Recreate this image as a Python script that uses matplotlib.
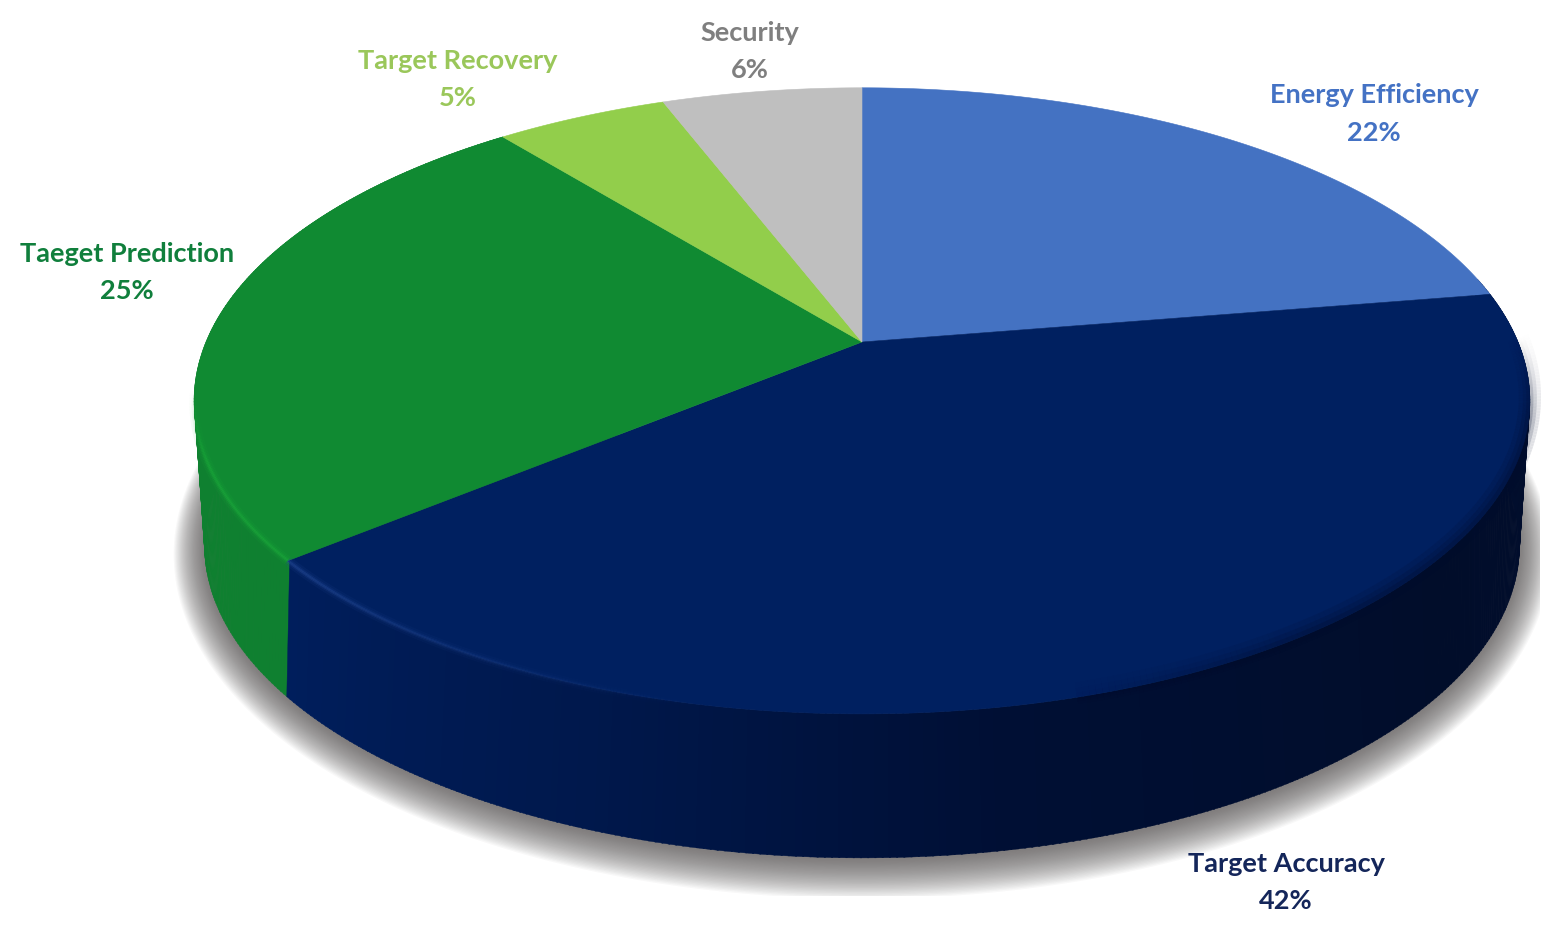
import numpy as np
import matplotlib
matplotlib.use('Agg')
import matplotlib.pyplot as plt
from matplotlib.patches import Polygon, Rectangle

labels = ['Energy Efficiency', 'Target Accuracy', 'Taeget Prediction', 'Target Recovery', 'Security']
values = [22.4, 41.6, 25.2, 5.0, 5.8]
colors = ['#4472C2', '#002060', '#108A32', '#92CE4B', '#BFBFBF']
text_colors = ['#4472C4', '#14265A', '#107F3C', '#9AC75A', '#7F7F7F']
label_xy = [(1374, 95), (1286, 864), (127, 254), (458, 61), (750, 33)]
pct_xy = [(1374, 133), (1286, 901), (127, 291), (458, 98), (750, 70)]

# side colour stops: angle in degrees, rgb
side_angles = [-140, -110, -80, -40, 11]
side_navy = [(0, 30, 92), (0, 24, 76), (0, 15, 52), (1, 13, 42), (1, 14, 46)]
side_green = (15, 128, 48)

CX, CY = 862, 342
A, B, K = 656, 302, 0.188
DEPTH, SX, SY, K2 = 132, 0.976, 0.982, 0.2275


def top_edge(theta):
    x, y = np.cos(theta), np.sin(theta)
    w = 1 + K * y
    return CX + A * x / w, CY - B * y / w


def bottom_edge(theta, grow=0.0):
    x, y = np.cos(theta), np.sin(theta)
    w = 1 + K2 * y
    return (CX + (SX * A + grow) * x / w,
            CY + DEPTH - (SY * B + grow) * y / w)


fig = plt.figure(figsize=(15.65, 9.32), dpi=100)
ax = fig.add_axes([0, 0, 1, 1])
ax.set_xlim(0, 1565)
ax.set_ylim(932, 0)
ax.axis('off')

# slice limits, clockwise from 12 o'clock
limits = 90 - 360 * np.cumsum([0] + values) / sum(values)

# soft shadow under the pie, cut off like in the original
clip = Rectangle((0, 435), 1540, 461, transform=ax.transData)
full = np.radians(np.linspace(0, 360, 361))
for grow in np.linspace(30, 0, 30):
    sx, sy = bottom_edge(full, grow)
    p = Polygon(np.c_[sx, sy + 2], closed=True, fc='#575252', ec='none', alpha=0.04, zorder=1)
    ax.add_patch(p)
    p.set_clip_path(clip)

# side wall, narrow strips so the colour can change along it
for deg in np.arange(limits[3], 12, 0.5):
    t0, t1 = np.radians(deg), np.radians(deg + 0.6)
    if deg < limits[2]:
        rgb = side_green
    else:
        rgb = [np.interp(deg, side_angles, [c[j] for c in side_navy]) for j in range(3)]
    tx, ty = top_edge(np.array([t0, t1]))
    bx, by = bottom_edge(np.array([t1, t0]))
    col = tuple(v / 255 for v in rgb)
    ax.add_patch(Polygon(np.c_[np.r_[tx, bx], np.r_[ty, by]], closed=True, fc=col, ec=col, lw=0.3, zorder=2))

# top face
for i in range(len(values)):
    th = np.radians(np.linspace(limits[i], limits[i + 1], 200))
    ex, ey = top_edge(th)
    xs = np.r_[CX, ex]
    ys = np.r_[CY, ey]
    ax.add_patch(Polygon(np.c_[xs, ys], closed=True, fc=colors[i], ec=colors[i], lw=0.4, zorder=3))

# bevel: light line on the left of the rim, dark soft band on the right
th = np.radians(np.linspace(limits[3] + 60, limits[2], 120))
ex, ey = top_edge(th)
n = len(th)
for k in range(n - 1):
    fade = min(1, k / 50)
    for lw, al in [(7, 0.10), (4, 0.16), (2, 0.30)]:
        ax.plot(ex[k:k + 2], ey[k:k + 2], color='#1FB53E', lw=lw, alpha=al * fade, zorder=4, solid_capstyle='butt')
th = np.radians(np.linspace(limits[2], -100, 160))
ex, ey = top_edge(th)
n = len(th)
for k in range(n - 1):
    fade = 1 - k / (n - 1)
    for lw, al in [(7, 0.10), (4, 0.16), (2, 0.30)]:
        ax.plot(ex[k:k + 2], ey[k:k + 2], color='#2F56A8', lw=lw, alpha=al * fade, zorder=4, solid_capstyle='butt')
th = np.radians(np.linspace(-75, 0, 150))
ex, ey = top_edge(th)
n = len(th)
for k in range(n - 1):
    fade = min(1, k / 40) * min(1, (n - 1 - k) / 30)
    for lw, al in [(16, 0.12), (10, 0.16), (5, 0.22)]:
        ax.plot(ex[k:k + 2], ey[k:k + 2] - lw / 4, color='#000C2C', lw=lw, alpha=al * fade, zorder=4, solid_capstyle='butt')

for i in range(len(values)):
    ax.text(*label_xy[i], labels[i], color=text_colors[i], fontsize=19.5, fontweight='bold',
            family='Lato', ha='center', va='center', zorder=6)
    ax.text(*pct_xy[i], f'{round(values[i])}%', color=text_colors[i], fontsize=19.5, fontweight='bold',
            family='Lato', ha='center', va='center', zorder=6)

fig.savefig('out.png', dpi=100, facecolor='white')
